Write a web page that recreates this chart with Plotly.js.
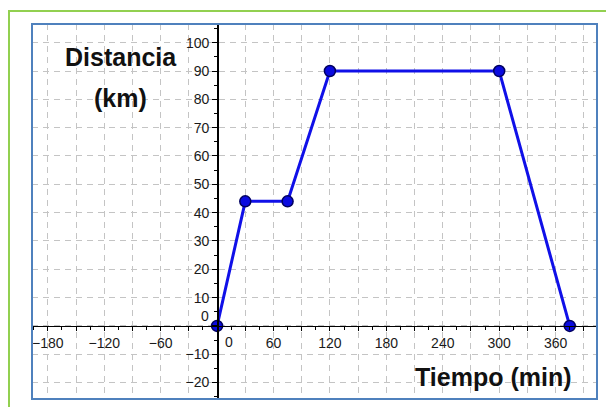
<!DOCTYPE html>
<html>
<head>
<meta charset="utf-8">
<script src="https://cdn.plot.ly/plotly-3.0.1.min.js"></script>
<style>
  html, body { margin: 0; padding: 0; background: #ffffff; }
  #wrap { position: relative; width: 606px; height: 407px; overflow: hidden; }
  #frame { position: absolute; left: 8px; top: 10px; width: 700px; height: 500px;
           border-left: 2px solid #92d050; border-top: 2px solid #92d050; box-sizing: border-box; }
  #chart { position: absolute; left: 0; top: 0; width: 606px; height: 407px; }
</style>
</head>
<body>
<div id="wrap">
  <div id="frame"></div>
  <div id="chart"></div>
</div>
<script>
// Data (minutes, km)
const tiempo = [0, 30, 75, 120, 300, 375];
const distancia = [0, 44, 44, 90, 90, 0];

// Axis ticks / labels
const xGridVals = [-180, -150, -120, -90, -60, -30, 0, 30, 60, 90, 120, 150, 180, 210, 240, 270, 300, 330, 360, 390];
const xLabelVals = [-180, -120, -60, 60, 120, 180, 240, 300, 360];
const yGridVals = [-20, -10, 0, 10, 20, 30, 40, 50, 60, 70, 80, 90, 100];
const yLabelVals = [-20, -10, 10, 20, 30, 40, 50, 60, 70, 80, 90, 100];

const yTitleLines = ['Distancia', '(km)'];
const xTitle = 'Tiempo (min)';

const xRange = [-196.8, 404];
const yRange = [-25.8, 106.6];

const fmt = v => (v < 0 ? '\u2212' + String(-v) : String(v));
const xText = xGridVals.map(v => xLabelVals.includes(v) ? fmt(v) : '');
const yText = yGridVals.map(v => yLabelVals.includes(v) ? fmt(v) : '');

const xZeroPos = (0 - xRange[0]) / (xRange[1] - xRange[0]);
const yZeroPos = (0 - yRange[0]) / (yRange[1] - yRange[0]);

const gridStyle = { showgrid: true, gridcolor: '#c4c4c4', gridwidth: 1, griddash: '6px,5px' };
const tickFont = { family: 'Liberation Sans, Arial, sans-serif', size: 14, color: '#1a1a1a' };
const titleFont = { family: 'Liberation Sans, Arial, sans-serif', size: 25, color: '#111' };

const trace = {
  x: tiempo, y: distancia, type: 'scatter', mode: 'lines+markers',
  line: { color: '#1010e8', width: 3 },
  marker: { color: '#0a0ae0', size: 11, line: { color: '#000060', width: 1.5 } },
  hoverinfo: 'skip', cliponaxis: false
};

const layout = {
  width: 606, height: 407,
  margin: { l: 32, r: 9, t: 24, b: 8 },
  paper_bgcolor: 'rgba(0,0,0,0)', plot_bgcolor: '#ffffff',
  showlegend: false,
  xaxis: Object.assign({}, gridStyle, {
    range: xRange, tickmode: 'array', tickvals: xGridVals, ticktext: xText,
    anchor: 'free', position: yZeroPos,
    showline: true, linecolor: '#000', linewidth: 1.5,
    zeroline: false, ticks: 'outside', ticklen: 4, tickcolor: '#000', tickwidth: 1,
    minor: { dtick: 15, tick0: 0, ticks: 'outside', ticklen: 3, tickcolor: '#000',
             showgrid: false, gridcolor: 'rgba(0,0,0,0)' },
    tickfont: tickFont, fixedrange: true
  }),
  yaxis: Object.assign({}, gridStyle, {
    range: yRange, tickmode: 'array', tickvals: yGridVals, ticktext: yText,
    anchor: 'free', position: xZeroPos,
    showline: true, linecolor: '#000', linewidth: 1.5,
    zeroline: false, ticks: 'outside', ticklen: 5, tickcolor: '#000', tickwidth: 1,
    minor: { dtick: 5, tick0: 0, ticks: 'outside', ticklen: 3, tickcolor: '#000',
             showgrid: false, gridcolor: 'rgba(0,0,0,0)' },
    tickfont: tickFont, fixedrange: true
  }),
  shapes: [
    { type: 'rect', xref: 'paper', yref: 'paper', x0: 0, x1: 1, y0: 0, y1: 1,
      line: { color: '#4f81bd', width: 2 }, layer: 'above' }
  ],
  annotations: [
    { xref: 'paper', yref: 'paper', x: 0.1575, y: 0.912, xanchor: 'center', yanchor: 'middle',
      text: '<b>' + yTitleLines[0] + '</b>', showarrow: false, font: titleFont },
    { xref: 'paper', yref: 'paper', x: 0.1575, y: 0.803, xanchor: 'center', yanchor: 'middle',
      text: '<b>' + yTitleLines[1] + '</b>', showarrow: false, font: titleFont },
    { xref: 'paper', yref: 'paper', x: 0.8168, y: 0.0587, xanchor: 'center', yanchor: 'middle',
      text: '<b>' + xTitle + '</b>', showarrow: false, font: titleFont },
    { xref: 'x', yref: 'y', x: 0, y: 0, text: '0', showarrow: false, xanchor: 'right', yanchor: 'middle',
      xshift: -6, yshift: 10, font: tickFont },
    { xref: 'x', yref: 'y', x: 0, y: 0, text: '0', showarrow: false, xanchor: 'center', yanchor: 'middle',
      xshift: 12, yshift: -16, font: tickFont }
  ]
};

Plotly.newPlot('chart', [trace], layout, { displayModeBar: false, staticPlot: true });
</script>
</body>
</html>
